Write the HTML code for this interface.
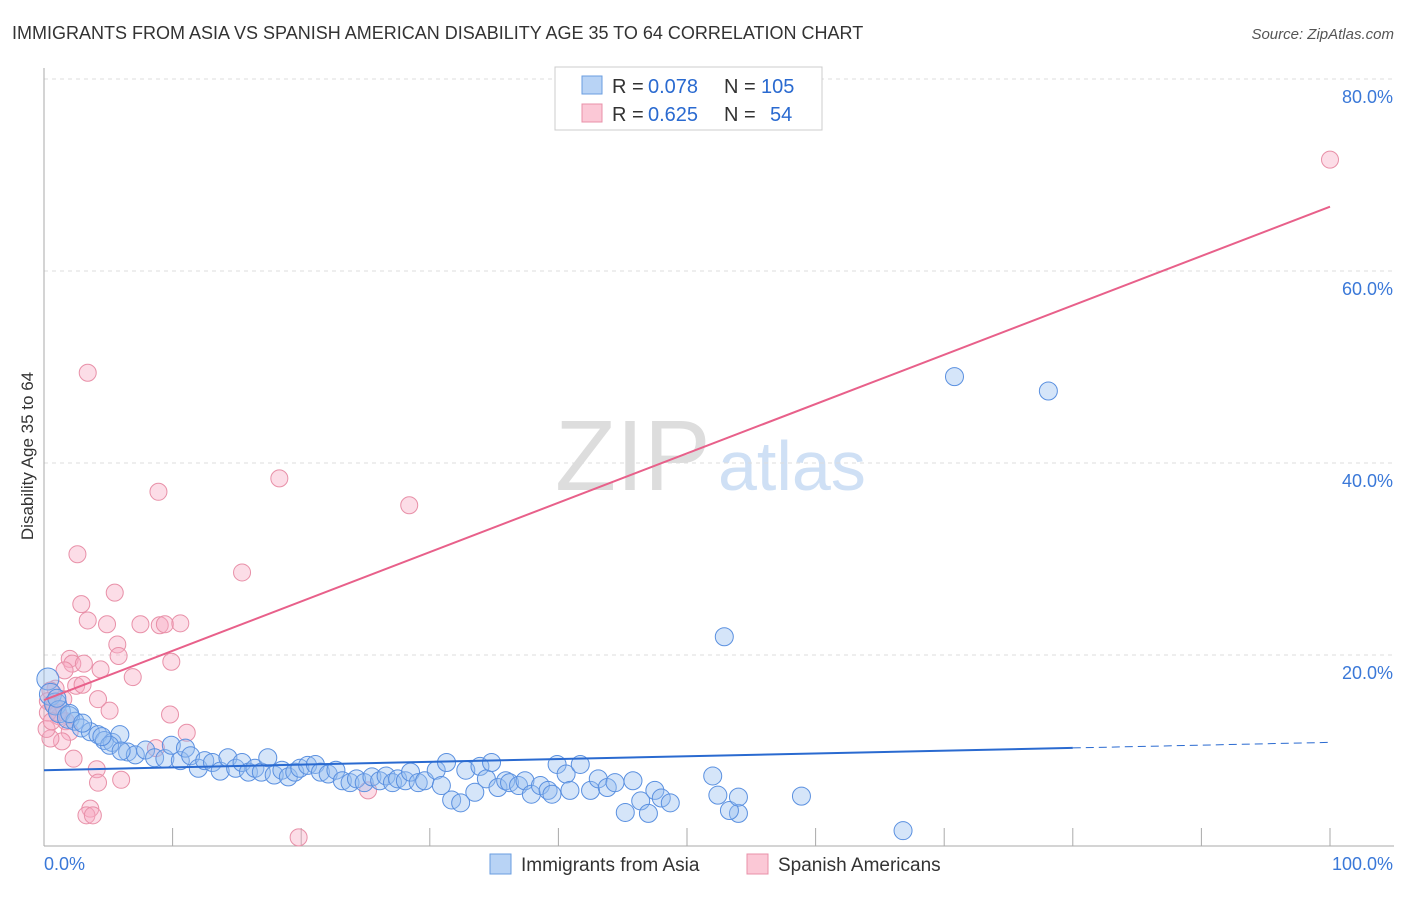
<!DOCTYPE html>
<html><head><meta charset="utf-8"><style>
body{margin:0;background:#fff;font-family:"Liberation Sans",sans-serif;}
svg text{font-family:"Liberation Sans",sans-serif;}
</style></head><body>
<svg id="c" width="1406" height="892">
<text x="12" y="39" font-size="18" fill="#333">IMMIGRANTS FROM ASIA VS SPANISH AMERICAN DISABILITY AGE 35 TO 64 CORRELATION CHART</text>
<text x="1394" y="39" font-size="15" fill="#555" font-style="italic" text-anchor="end">Source: ZipAtlas.com</text>
<text x="33" y="456" font-size="17" fill="#333" text-anchor="middle" transform="rotate(-90 33 456)">Disability Age 35 to 64</text>
<text x="555" y="490" font-size="100" fill="#ddd" font-family="Liberation Serif">ZIP</text>
<text x="718" y="490" font-size="70" fill="#cfe0f5">atlas</text>
<g id="grid"></g><g id="marks"></g>
<g>
<rect x="555" y="67" width="267" height="63" fill="#fff" stroke="#ccc"/>
<rect x="582" y="76" width="20" height="18" fill="#b8d3f5" stroke="#6a9ee0"/>
<rect x="582" y="104" width="20" height="18" fill="#fbc8d6" stroke="#e890a8"/>
<text x="612" y="93" font-size="20" fill="#333">R =</text>
<text x="648" y="93" font-size="20" fill="#2a6ad0">0.078</text>
<text x="724" y="93" font-size="20" fill="#333">N =</text>
<text x="761" y="93" font-size="20" fill="#2a6ad0">105</text>
<text x="612" y="121" font-size="20" fill="#333">R =</text>
<text x="648" y="121" font-size="20" fill="#2a6ad0">0.625</text>
<text x="724" y="121" font-size="20" fill="#333">N =</text>
<text x="770" y="121" font-size="20" fill="#2a6ad0">54</text>
</g>
<g>
<rect x="490" y="854" width="21" height="20" fill="#b8d3f5" stroke="#6a9ee0"/>
<text x="521" y="871" font-size="19" fill="#333">Immigrants from Asia</text>
<rect x="747" y="854" width="21" height="20" fill="#fbc8d6" stroke="#e890a8"/>
<text x="778" y="871" font-size="19" fill="#333">Spanish Americans</text>
</g>
</svg>
<script>
const yTicks=[20,40,60,80];
const yTickLabels=["20.0%","40.0%","60.0%","80.0%"];
const blueX=[0.3,0.5,0.9,1.2,1.9,2.4,2.9,3.6,4.2,4.7,5.3,5.9,5.1,6.5,7.1,7.9,8.6,9.4,9.9,10.6,11.0,11.4,12.0,12.5,13.1,13.7,14.3,14.9,15.4,15.9,16.4,16.9,17.4,17.9,18.5,19.0,19.5,19.9,20.5,21.1,21.5,22.1,22.7,23.2,23.8,24.3,24.9,25.5,26.1,26.6,27.1,27.5,28.1,28.5,29.1,29.6,30.5,30.9,31.3,31.7,32.4,32.8,33.5,33.9,34.4,34.8,35.3,35.9,36.2,36.9,37.4,37.9,38.6,39.2,39.5,39.9,40.6,40.9,41.7,42.5,43.1,43.8,44.4,45.2,45.8,46.4,47.0,47.5,48.0,48.7,54.0,52.0,52.4,52.9,53.3,54.0,58.9,66.8,70.8,78.1,1.0,2.0,3.0,4.5,6.0];
const blueY=[17.5,15.9,14.9,14.1,13.5,13.1,12.4,12.0,11.7,11.1,10.9,11.7,10.6,9.9,9.6,10.1,9.3,9.2,10.6,9.0,10.3,9.5,8.2,9.0,8.8,7.9,9.3,8.2,8.8,7.8,8.2,7.8,9.3,7.5,8.0,7.3,7.8,8.2,8.5,8.6,7.8,7.6,8.0,6.9,6.7,7.1,6.7,7.3,6.9,7.4,6.7,7.1,6.9,7.8,6.7,6.9,8.0,6.4,8.8,4.9,4.6,8.0,5.7,8.4,7.1,8.8,6.2,6.9,6.7,6.4,6.9,5.5,6.4,5.9,5.5,8.6,7.6,5.9,8.6,5.9,7.1,6.2,6.7,3.6,6.9,4.8,3.5,5.9,5.1,4.6,3.5,7.4,5.4,21.9,3.8,5.2,5.3,1.7,49.0,47.5,15.5,13.9,12.9,11.5,10.0];
const pinkX=[3.4,2.6,2.9,3.4,5.5,4.9,5.7,5.8,4.4,2.0,2.2,3.1,1.6,6.9,5.1,4.2,2.5,3.0,0.9,0.5,0.3,0.8,1.2,1.7,2.0,1.4,0.5,0.2,1.1,2.3,4.1,4.2,6.0,3.6,3.3,3.8,7.5,9.0,9.4,10.6,9.9,8.7,9.8,11.1,8.9,15.4,18.3,28.4,19.8,25.2,100,0.3,0.6,1.5];
const pinkY=[49.4,30.5,25.3,23.6,26.5,23.2,21.1,19.9,18.5,19.6,19.1,19.1,18.4,17.7,14.2,15.4,16.8,16.9,16.5,16.3,15.2,14.7,13.6,13.1,12.0,11.0,11.3,12.3,14.0,9.2,8.1,6.7,7.0,4.0,3.3,3.3,23.2,23.1,23.2,23.3,19.3,10.3,13.8,11.9,37.0,28.6,38.4,35.6,1.0,5.9,71.6,14.0,13.1,15.4];
const pinkTrend=[15.3,66.7];
const blueTrend=[8.0,10.9];
const NS="http://www.w3.org/2000/svg";
const X=v=>44+v*12.86, Y=v=>847-v*9.6;
function mk(t,a,p){const e=document.createElementNS(NS,t);for(const k in a)e.setAttribute(k,a[k]);p.appendChild(e);return e;}
const g=document.getElementById('grid'),m=document.getElementById('marks');
yTicks.forEach((t,i)=>{const l=mk('line',{x1:44,x2:1394,y1:Y(t),y2:Y(t),stroke:'#ddd','stroke-dasharray':'4,4'},g);


const tx=mk('text',{x:1393,y:Y(t)+24,'font-size':18,fill:'#3a78d8','text-anchor':'end'},g);tx.textContent=yTickLabels[i];

});
mk('line',{x1:44,x2:44,y1:68,y2:846,stroke:'#aaa'},g);
mk('line',{x1:44,x2:1394,y1:846,y2:846,stroke:'#aaa'},g);
for(let i=1;i<=10;i++){const t=mk('line',{x1:X(i*10),x2:X(i*10),y1:828,y2:846,stroke:'#aaa'},g);

}
let a=mk('text',{x:44,y:870,'font-size':18,fill:'#3a78d8'},g);a.textContent='0.0%';


a=mk('text',{x:1393,y:870,'font-size':18,fill:'#3a78d8','text-anchor':'end'},g);a.textContent='100.0%';


pinkX.forEach((x,i)=>{const c=mk('circle',{cx:X(x),cy:Y(pinkY[i]),r:8.5,fill:'rgba(248,170,195,0.4)',stroke:'#e890a8','stroke-width':1},m);

});
blueX.forEach((x,i)=>{const c=mk('circle',{cx:X(x),cy:Y(blueY[i]),r:i<5?11:9,fill:'rgba(150,190,240,0.4)',stroke:'#5a90e0','stroke-width':1},m);

});
let l=mk('line',{x1:X(0),y1:Y(pinkTrend[0]),x2:X(100),y2:Y(pinkTrend[1]),stroke:'#e8608a','stroke-width':2},m);


const b80=blueTrend[0]+(blueTrend[1]-blueTrend[0])*0.8;
l=mk('line',{x1:X(0),y1:Y(blueTrend[0]),x2:X(80),y2:Y(b80),stroke:'#2a6ad0','stroke-width':2},m);


l=mk('line',{x1:X(80),y1:Y(b80),x2:X(100),y2:Y(blueTrend[1]),stroke:'#2a6ad0','stroke-width':1,'stroke-dasharray':'8,5'},m);


</script>
</body></html>
